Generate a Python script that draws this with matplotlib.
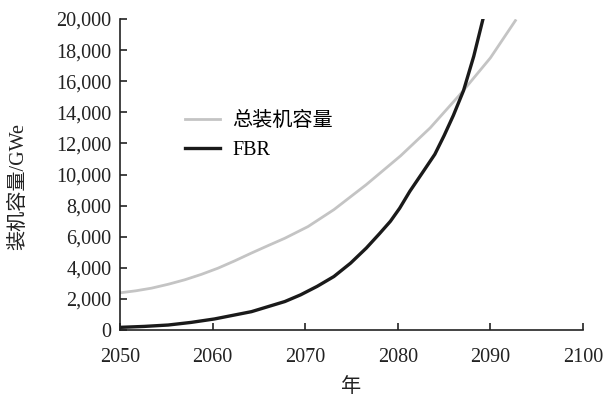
import numpy as np
import matplotlib.pyplot as plt
from matplotlib.ticker import FuncFormatter

# total installed capacity (GWe)
total_years = [2050, 2051.7, 2053.4, 2055.2, 2057, 2058.8, 2060.6, 2062.4, 2064.2, 2066, 2067.8,
               2070.3, 2073.1, 2076.6, 2080.3, 2083.5, 2086.8, 2090, 2092.7]
total_cap = [2390, 2520, 2690, 2940, 3230, 3580, 3980, 4450, 4950, 5430, 5900,
             6650, 7740, 9350, 11200, 13000, 15200, 17500, 19900]

# FBR capacity (GWe)
fbr_years = [2050, 2052.6, 2055.2, 2057.7, 2060.2, 2064.2, 2067.8, 2069.5, 2071.3, 2073.1, 2074.9,
             2076.6, 2078, 2079.2, 2080.2, 2081.3, 2082.7, 2084, 2085, 2086, 2087.1, 2088.2, 2089.2]
fbr_cap = [170, 230, 320, 490, 710, 1180, 1830, 2260, 2810, 3440, 4300,
           5270, 6180, 6990, 7830, 8920, 10150, 11300, 12500, 13800, 15400, 17600, 20000]

series_labels = ["总装机容量", "FBR"]
xticks = [2050, 2060, 2070, 2080, 2090, 2100]
yticks = list(range(0, 20001, 2000))

plt.rcParams['font.family'] = ['Liberation Serif', 'Noto Sans CJK SC']

fig = plt.figure(figsize=(6.06, 3.97), dpi=100)
ax = fig.add_axes([120/606, 1-330/397, 463/606, 311/397])

ax.plot(total_years, total_cap, color="#c4c4c4", lw=2.0, label=series_labels[0])
ax.plot(fbr_years, fbr_cap, color="#1a1a1a", lw=2.4, label=series_labels[1])

ax.set_xlim(2050, 2100)
ax.set_ylim(0, 20000)
ax.set_xticks(xticks)
ax.set_yticks(yticks)
ax.yaxis.set_major_formatter(FuncFormatter(lambda v, p: f"{int(v):,}"))
ax.tick_params(direction="in", length=5, width=1.2, labelsize=14.5, colors="#222222")
ax.tick_params(axis="x", pad=13)
ax.tick_params(axis="y", pad=6)
for s in ["top", "right"]:
    ax.spines[s].set_visible(False)
for s in ["left", "bottom"]:
    ax.spines[s].set_linewidth(1.2)
    ax.spines[s].set_color("#222222")

ax.set_ylabel("装机容量/GWe", fontsize=14.5, color="#222222")
ax.yaxis.set_label_coords(-0.198, 0.46)
ax.set_xlabel("年", fontsize=14.5, color="#222222", labelpad=8)

ax.legend(loc="upper left", bbox_to_anchor=(0.14, 0.70), frameon=False,
          fontsize=14.5, handlelength=1.75, handletextpad=0.6,
          labelspacing=0.45, borderpad=0, borderaxespad=0)

fig.savefig("out.png", dpi=100)
